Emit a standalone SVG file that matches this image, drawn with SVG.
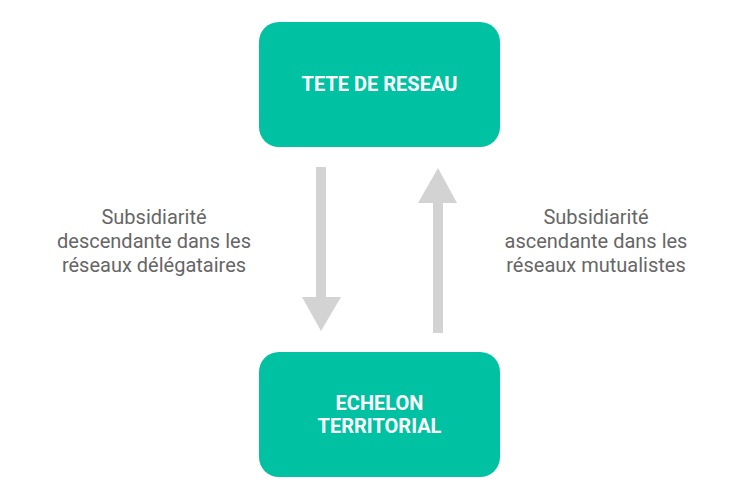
<svg xmlns="http://www.w3.org/2000/svg" width="750" height="500" viewBox="0 0 750 500">
<style>
.box{fill:#00C2A2;}
.bt{font-family:Roboto,"Liberation Sans",sans-serif;font-weight:bold;font-size:20px;fill:#ffffff;text-anchor:middle;}
.lt{font-family:Roboto,"Liberation Sans",sans-serif;font-size:20px;fill:#666666;text-anchor:middle;}
.arr{fill:#D3D3D3;}
</style>
<rect width="750" height="500" fill="#ffffff"/>
<g id="tete">
<rect class="box" x="259" y="22" width="241" height="125" rx="20"/>
<text class="bt" x="379.5" y="91">TETE DE RESEAU</text>
</g>
<g id="echelon">
<rect class="box" x="259" y="352" width="241" height="125" rx="20"/>
<text class="bt" x="379.5" y="410">ECHELON</text>
<text class="bt" x="379.5" y="433">TERRITORIAL</text>
</g>
<g id="connectors">
<polygon class="arr" points="316,167 326,167 326,297 341,297 321,331 302,297 316,297"/>
<polygon class="arr" points="433,333 443,333 443,203 457,203 438,168 418,203 433,203"/>
</g>
<g id="label-left">
<text class="lt" x="154" y="224">Subsidiarité</text>
<text class="lt" x="154" y="248">descendante dans les</text>
<text class="lt" x="154" y="272">réseaux délégataires</text>
</g>
<g id="label-right">
<text class="lt" x="596" y="224">Subsidiarité</text>
<text class="lt" x="596" y="248">ascendante dans les</text>
<text class="lt" x="596" y="272">réseaux mutualistes</text>
</g>
</svg>
